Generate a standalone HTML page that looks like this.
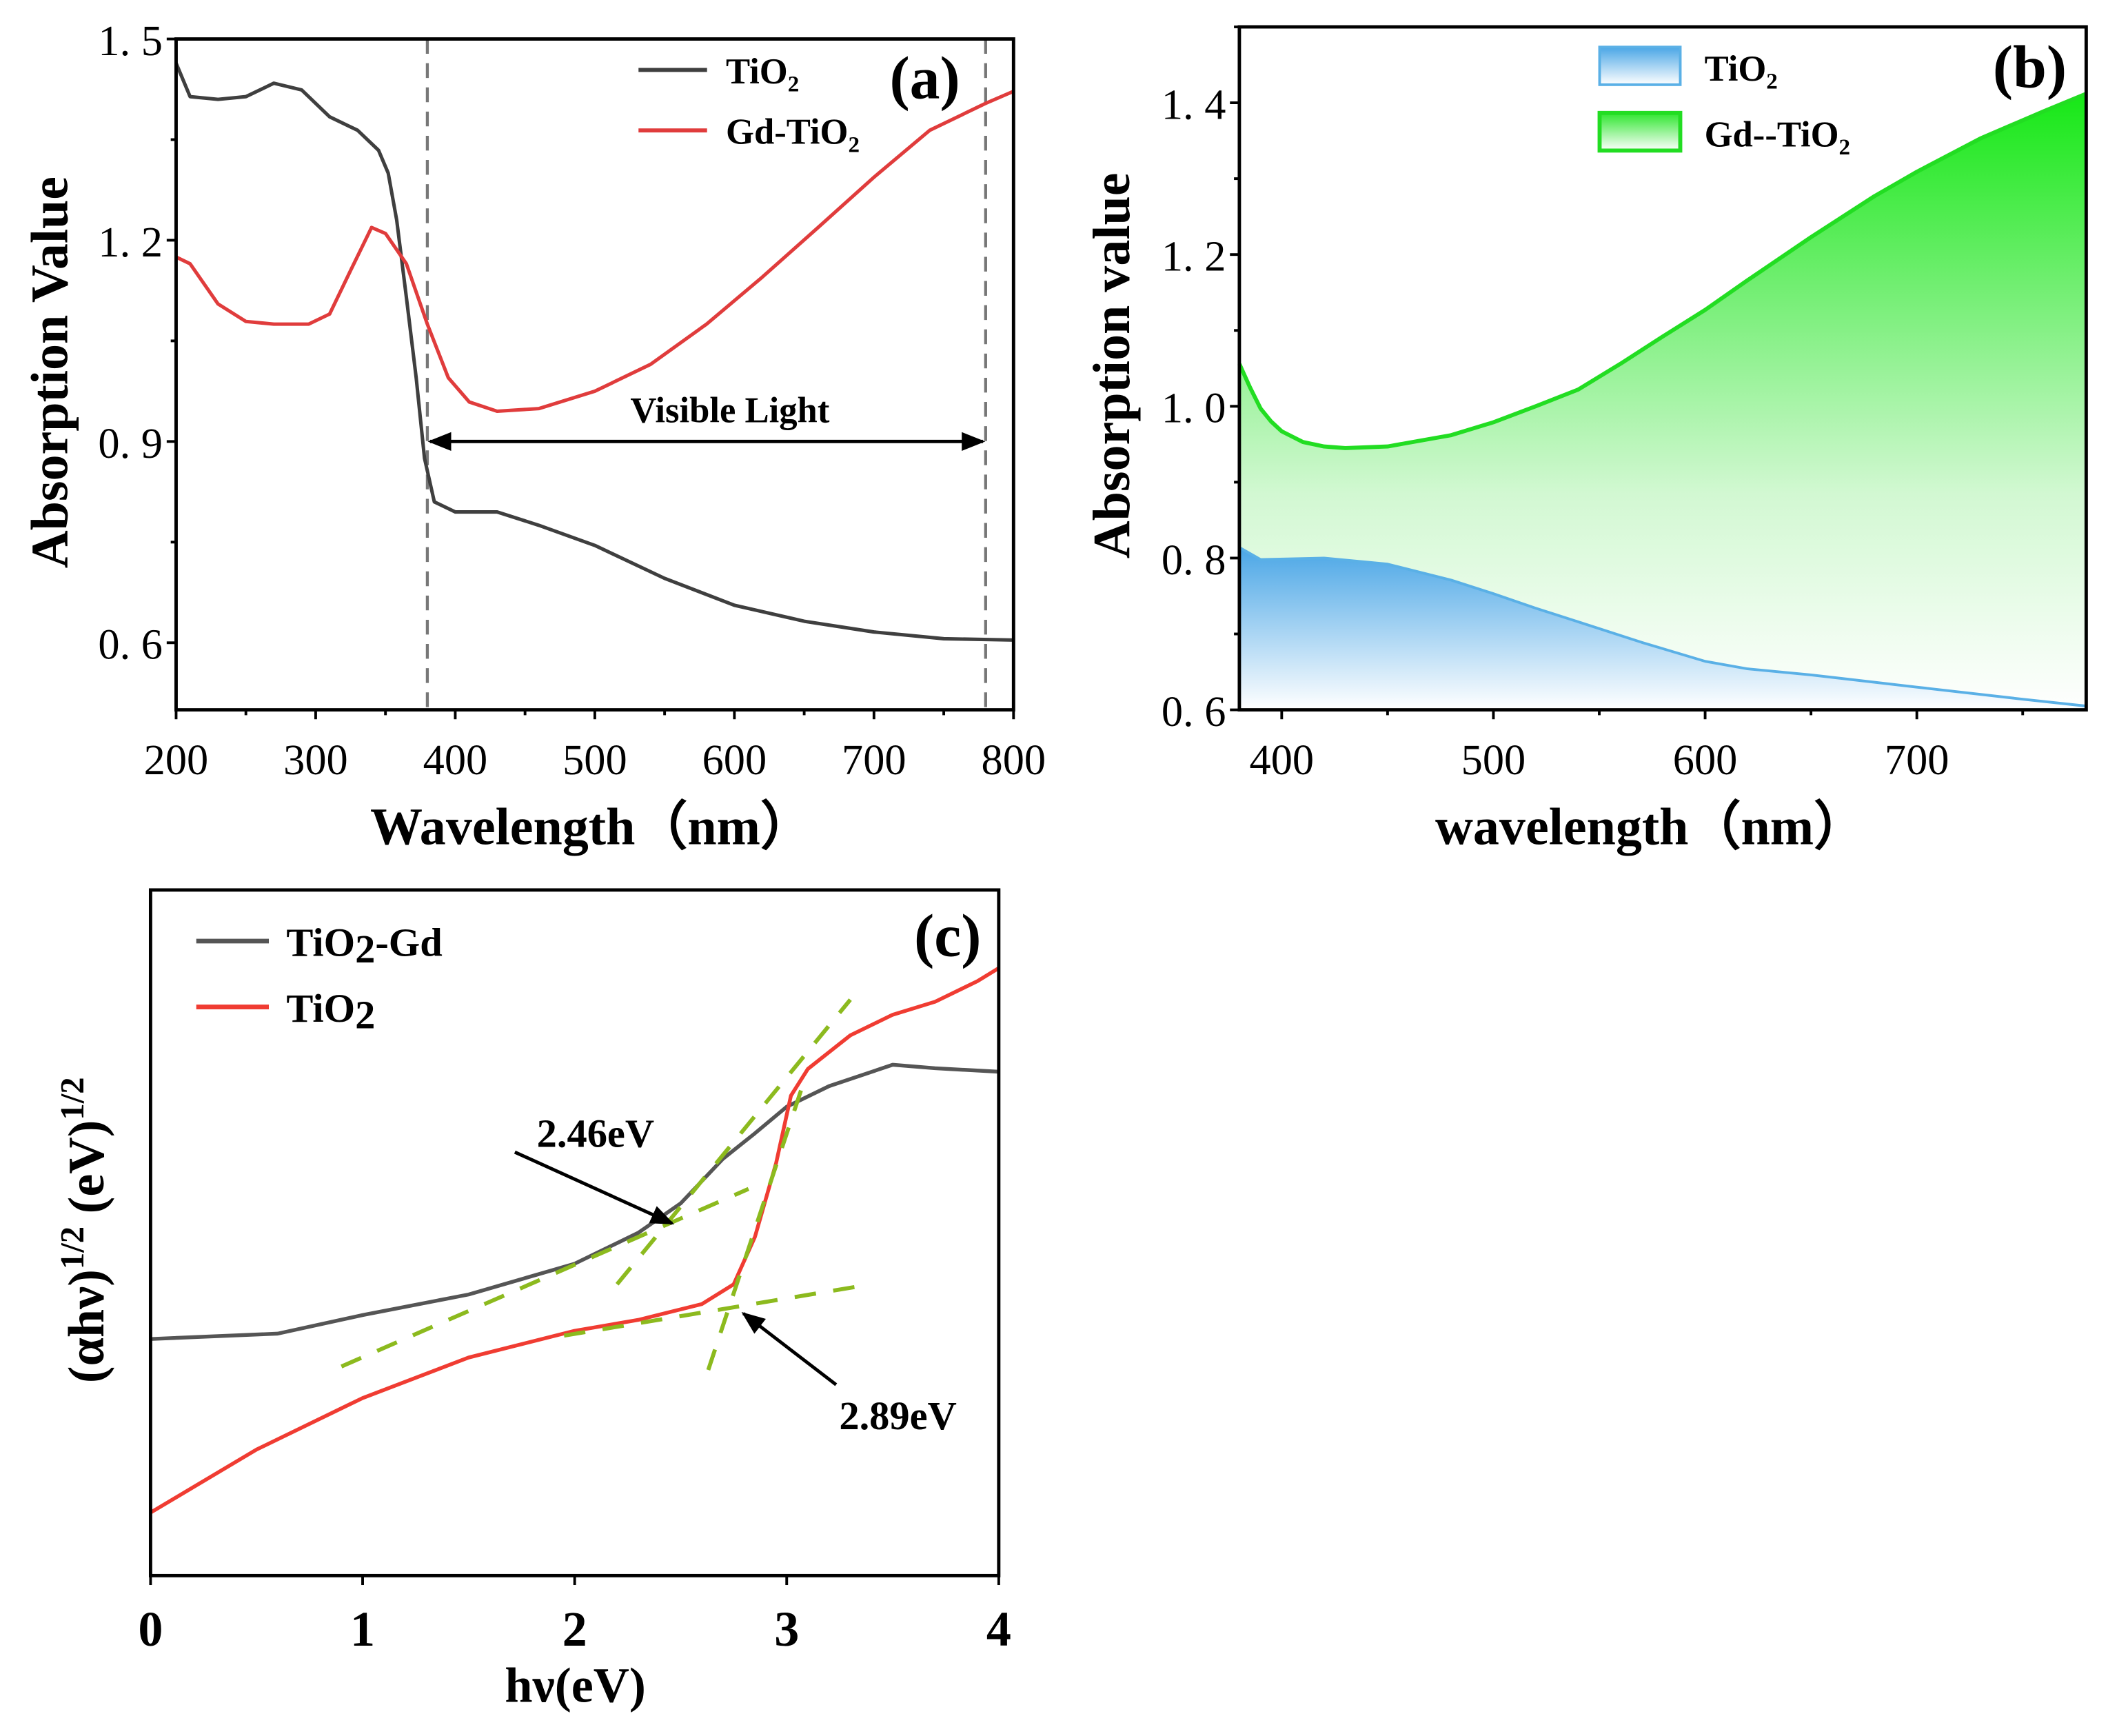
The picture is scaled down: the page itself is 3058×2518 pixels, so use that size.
<!DOCTYPE html>
<html><head><meta charset="utf-8"><style>
html,body{margin:0;padding:0;background:#fff}
svg{display:block}
text{font-family:"Liberation Serif",serif}
</style></head><body>
<svg id="fig" xmlns="http://www.w3.org/2000/svg" width="3058" height="2518" viewBox="0 0 1568.2 1291.3">
<defs>
<linearGradient id="gGreen" x1="0" y1="0" x2="0" y2="1"><stop offset="0" stop-color="#16e816"/><stop offset="0.3" stop-color="#6eee6e"/><stop offset="0.65" stop-color="#d2f8d2"/><stop offset="1" stop-color="#ffffff"/></linearGradient>
<linearGradient id="gBlue" x1="0" y1="0" x2="0" y2="1"><stop offset="0" stop-color="#4aa6e6"/><stop offset="1" stop-color="#ffffff"/></linearGradient>
<linearGradient id="gGreenL" x1="0" y1="0" x2="0" y2="1"><stop offset="0" stop-color="#2ee62e"/><stop offset="1" stop-color="#ffffff"/></linearGradient>
<marker id="ah" viewBox="0 0 10 10" refX="9" refY="5" markerWidth="7" markerHeight="7" orient="auto-start-reverse"><path d="M0,1 L10,5 L0,9 z" fill="#000"/></marker>
</defs>
<g id="pa"></g>
<g id="pb"></g>
<g id="pc"></g>
</svg>
<script>
// Panel a data
const aWl = [200,210,230,250,270,290,310,330,345,352,358,365,372,378,385,400,430,460,500,550,600,650,700,750,800];
const aTiO2 = [1.464,1.414,1.41,1.414,1.434,1.424,1.384,1.364,1.334,1.3,1.23,1.115,0.995,0.875,0.81,0.795,0.795,0.775,0.745,0.696,0.656,0.632,0.616,0.606,0.604];
const aGdWl = [200,210,230,250,270,295,310,325,340,350,365,380,395,410,430,460,500,540,580,620,660,700,740,780,800];
const aGd = [1.175,1.165,1.105,1.079,1.075,1.075,1.09,1.155,1.219,1.21,1.165,1.075,0.995,0.959,0.945,0.949,0.975,1.015,1.075,1.145,1.219,1.294,1.364,1.404,1.422];
const aXTicks = [200,300,400,500,600,700,800];
const aYTicks = [0.6,0.9,1.2,1.5];
const aYTickLabels = ["0. 6","0. 9","1. 2","1. 5"];
// Panel b data
const bGdWl = [380,385,390,395,400,410,420,430,450,480,500,520,540,560,580,600,620,650,680,700,730,760,780];
const bGd = [1.056,1.025,0.997,0.98,0.967,0.953,0.947,0.945,0.947,0.962,0.979,1.0,1.022,1.056,1.092,1.127,1.166,1.223,1.277,1.309,1.353,1.389,1.412];
const bTiWl = [380,390,420,450,480,500,520,540,570,600,620,650,700,750,780];
const bTiO2 = [0.814,0.798,0.8,0.792,0.771,0.753,0.734,0.716,0.689,0.664,0.654,0.646,0.63,0.614,0.605];
const bXTicks = [400,500,600,700];
const bYTicks = [0.6,0.8,1.0,1.2,1.4];
const bYTickLabels = ["0. 6","0. 8","1. 0","1. 2","1. 4"];
// Panel c data
const cGdE = [0,0.6,1.0,1.5,2.0,2.3,2.5,2.7,2.85,3.0,3.2,3.5,3.7,4.0];
const cGd = [0.345,0.353,0.38,0.41,0.455,0.5,0.543,0.608,0.645,0.684,0.714,0.745,0.74,0.735];
const cTiE = [0,0.5,1.0,1.5,2.0,2.3,2.6,2.75,2.85,2.95,3.02,3.1,3.3,3.5,3.7,3.9,4.0];
const cTiO2 = [0.092,0.184,0.259,0.318,0.357,0.373,0.396,0.425,0.494,0.602,0.7,0.739,0.788,0.818,0.837,0.867,0.886];
const cXTicks = [0,1,2,3,4];
// tangent lines [x1,y1,x2,y2] in data units
const cTangents = [[0.9,0.305,2.82,0.564],[2.2,0.425,3.3,0.84],[2.63,0.30,3.07,0.71],[1.95,0.35,3.4,0.425]];

const NS="http://www.w3.org/2000/svg";
function mk(parent,tag,attrs,txt){const e=document.createElementNS(NS,tag);for(const k in attrs)e.setAttribute(k,attrs[k]);if(txt!==undefined)e.textContent=txt;parent.appendChild(e);return e;}
function lin(d0,d1,r0,r1){return v=>r0+(v-d0)*(r1-r0)/(d1-d0);}
function pathOf(xs,ys,sx,sy){return xs.map((x,i)=>(i?'L':'M')+sx(x).toFixed(1)+','+sy(ys[i]).toFixed(1)).join(' ');}

// ---------- Panel a ----------
(function(){
const g=document.getElementById('pa');
const L=131,R=754,T=29,B=528;
const sx=lin(200,800,L,R), sy=lin(0.5,1.5,B,T);
let e;
e=mk(g,'line',{x1:sx(380),y1:T,x2:sx(380),y2:B,stroke:'#777','stroke-width':2.2,'stroke-dasharray':'11,7'});

e=mk(g,'line',{x1:sx(780),y1:T,x2:sx(780),y2:B,stroke:'#777','stroke-width':2.2,'stroke-dasharray':'11,7'});

e=mk(g,'path',{d:pathOf(aWl,aTiO2,sx,sy),fill:'none',stroke:'#3f3f3f','stroke-width':2.6,'stroke-linejoin':'round'});

e=mk(g,'path',{d:pathOf(aGdWl,aGd,sx,sy),fill:'none',stroke:'#e03c3c','stroke-width':2.6,'stroke-linejoin':'round'});

e=mk(g,'line',{x1:sx(380)+2,y1:sy(0.9),x2:sx(780)-2,y2:sy(0.9),stroke:'#000','stroke-width':2.5,'marker-start':'url(#ah)','marker-end':'url(#ah)'});

e=mk(g,'text',{x:543,y:314,'font-size':27,'font-weight':'bold','text-anchor':'middle'},'Visible Light');

e=mk(g,'rect',{x:L,y:T,width:R-L,height:B-T,fill:'none',stroke:'#000','stroke-width':2.5});

for(let v=200;v<=800;v+=50){e=mk(g,'line',{x1:sx(v),y1:B,x2:sx(v),y2:B+(v%100?4:7),stroke:'#000','stroke-width':2});}
aXTicks.forEach(v=>{e=mk(g,'text',{x:sx(v),y:576,'font-size':32,'text-anchor':'middle'},String(v));});
for(let v=0.6;v<=1.51;v+=0.15){e=mk(g,'line',{x1:L,y1:sy(v),x2:L-(Math.abs((v-0.6)/0.3-Math.round((v-0.6)/0.3))<0.01?7:4),y2:sy(v),stroke:'#000','stroke-width':2});}
aYTicks.forEach((v,i)=>{e=mk(g,'text',{x:L-10,y:sy(v)+12,'font-size':32,'text-anchor':'end'},aYTickLabels[i]);});
e=mk(g,'text',{x:440,y:628,'font-size':39,'font-weight':'bold','text-anchor':'middle'},'Wavelength（nm）');

e=mk(g,'text',{x:50,y:277,'font-size':39,'font-weight':'bold','text-anchor':'middle',transform:'rotate(-90 50 277)'},'Absorption Value');

e=mk(g,'line',{x1:475,y1:52,x2:526,y2:52,stroke:'#3f3f3f','stroke-width':3});
e=mk(g,'text',{x:540,y:62,'font-size':27,'font-weight':'bold'});e.innerHTML='TiO<tspan font-size="17" dy="6">2</tspan>';
e=mk(g,'line',{x1:475,y1:97,x2:526,y2:97,stroke:'#e03c3c','stroke-width':3});
e=mk(g,'text',{x:540,y:107,'font-size':27,'font-weight':'bold'});e.innerHTML='Gd-TiO<tspan font-size="17" dy="6">2</tspan>';
e=mk(g,'text',{x:688,y:73,'font-size':45,'font-weight':'bold','text-anchor':'middle'},'(a)');
})();

// ---------- Panel b ----------
(function(){
const g=document.getElementById('pb');
const L=922,R=1552,T=20,B=528;
const sx=lin(380,780,L,R), sy=lin(0.6,1.5,B,T);
let e;
const gdP=pathOf(bGdWl,bGd,sx,sy), tiP=pathOf(bTiWl,bTiO2,sx,sy);
e=mk(g,'path',{d:gdP+` L${sx(780)},${B} L${sx(380)},${B} Z`,fill:'url(#gGreen)'});
e=mk(g,'path',{d:tiP+` L${sx(780)},${B} L${sx(380)},${B} Z`,fill:'url(#gBlue)'});
e=mk(g,'path',{d:gdP,fill:'none',stroke:'#22dd22','stroke-width':3,'stroke-linejoin':'round'});
e=mk(g,'path',{d:tiP,fill:'none',stroke:'#5ab0e6','stroke-width':2,'stroke-linejoin':'round'});
e=mk(g,'rect',{x:L,y:T,width:R-L,height:B-T,fill:'none',stroke:'#000','stroke-width':2.5});
for(let v=400;v<=750;v+=50){e=mk(g,'line',{x1:sx(v),y1:B,x2:sx(v),y2:B+(v%100?4:7),stroke:'#000','stroke-width':2});}
bXTicks.forEach(v=>{e=mk(g,'text',{x:sx(v),y:576,'font-size':32,'text-anchor':'middle'},String(v));});
for(let v=0.6;v<=1.51;v+=0.1){const maj=Math.round(v*10)%2===0;e=mk(g,'line',{x1:L,y1:sy(v),x2:L-(maj?7:4),y2:sy(v),stroke:'#000','stroke-width':2});}
bYTicks.forEach((v,i)=>{e=mk(g,'text',{x:L-10,y:sy(v)+12,'font-size':32,'text-anchor':'end'},bYTickLabels[i]);});
e=mk(g,'text',{x:1228,y:628,'font-size':39,'font-weight':'bold','text-anchor':'middle'},'wavelength（nm）');
e=mk(g,'text',{x:840,y:272,'font-size':39,'font-weight':'bold','text-anchor':'middle',transform:'rotate(-90 840 272)'},'Absorption value');
e=mk(g,'rect',{x:1190,y:35,width:60,height:28,fill:'url(#gBlue)',stroke:'#5ab0e6','stroke-width':2});
e=mk(g,'text',{x:1268,y:60,'font-size':27,'font-weight':'bold'});e.innerHTML='TiO<tspan font-size="17" dy="6">2</tspan>';
e=mk(g,'rect',{x:1190,y:84,width:60,height:28,fill:'url(#gGreenL)',stroke:'#22dd22','stroke-width':3});
e=mk(g,'text',{x:1268,y:109,'font-size':27,'font-weight':'bold'});e.innerHTML='Gd--TiO<tspan font-size="17" dy="6">2</tspan>';
e=mk(g,'text',{x:1510,y:65,'font-size':45,'font-weight':'bold','text-anchor':'middle'},'(b)');
})();

// ---------- Panel c ----------
(function(){
const g=document.getElementById('pc');
const L=112,R=743,T=662,B=1172;
const sx=lin(0,4,L,R), sy=lin(0,1,B,T);
let e;
e=mk(g,'path',{d:pathOf(cGdE,cGd,sx,sy),fill:'none',stroke:'#555','stroke-width':2.8,'stroke-linejoin':'round'});
e=mk(g,'path',{d:pathOf(cTiE,cTiO2,sx,sy),fill:'none',stroke:'#f03c32','stroke-width':2.8,'stroke-linejoin':'round'});
cTangents.forEach(t=>{e=mk(g,'line',{x1:sx(t[0]),y1:sy(t[1]),x2:sx(t[2]),y2:sy(t[3]),stroke:'#8cba1e','stroke-width':3,'stroke-dasharray':'16,13'});});
e=mk(g,'line',{x1:383,y1:857,x2:500,y2:910,stroke:'#000','stroke-width':2.5,'marker-end':'url(#ah)'});
e=mk(g,'text',{x:443,y:853,'font-size':30,'font-weight':'bold','text-anchor':'middle'},'2.46eV');
e=mk(g,'line',{x1:622,y1:1030,x2:553,y2:977,stroke:'#000','stroke-width':2.5,'marker-end':'url(#ah)'});
e=mk(g,'text',{x:668,y:1063,'font-size':30,'font-weight':'bold','text-anchor':'middle'},'2.89eV');
e=mk(g,'rect',{x:L,y:T,width:R-L,height:B-T,fill:'none',stroke:'#000','stroke-width':2.5});
cXTicks.forEach(v=>{e=mk(g,'line',{x1:sx(v),y1:B,x2:sx(v),y2:B+7,stroke:'#000','stroke-width':2});
e=mk(g,'text',{x:sx(v),y:1224,'font-size':37,'font-weight':'bold','text-anchor':'middle'},String(v));});
e=mk(g,'text',{x:428,y:1266,'font-size':37,'font-weight':'bold','text-anchor':'middle'},'hν(eV)');
e=mk(g,'text',{x:77,y:915,'font-size':38,'font-weight':'bold','text-anchor':'middle',transform:'rotate(-90 77 915)'});
e.innerHTML='(αhν)<tspan font-size="25" dy="-15">1/2</tspan><tspan dy="15"> (eV)</tspan><tspan font-size="25" dy="-15">1/2</tspan>';

e=mk(g,'line',{x1:146,y1:700,x2:200,y2:700,stroke:'#555','stroke-width':3.5});
e=mk(g,'text',{x:213,y:711,'font-size':30,'font-weight':'bold'});e.innerHTML='TiO<tspan dy="5">2</tspan><tspan dy="-5">-Gd</tspan>';
e=mk(g,'line',{x1:146,y1:749,x2:200,y2:749,stroke:'#f03c32','stroke-width':3.5});
e=mk(g,'text',{x:213,y:760,'font-size':30,'font-weight':'bold'});e.innerHTML='TiO<tspan dy="5">2</tspan>';
e=mk(g,'text',{x:705,y:711,'font-size':45,'font-weight':'bold','text-anchor':'middle'},'(c)');
})();
</script>
</body></html>
